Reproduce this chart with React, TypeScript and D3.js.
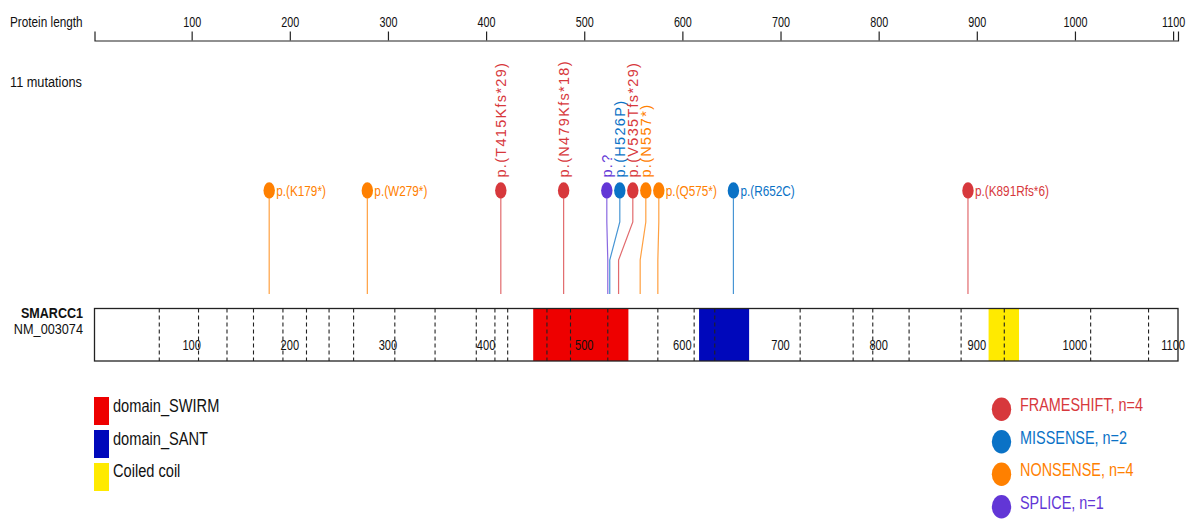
import * as d3 from "d3";
import React, { useEffect, useRef } from "react";

const W = 1186;
const H = 521;

const geneName = "SMARCC1";
const transcript = "NM_003074";
const proteinLength = 1105;
const axisTicks = [100, 200, 300, 400, 500, 600, 700, 800, 900, 1000, 1100];

// exon boundaries (dashed lines in the protein bar)
const exonBreaks = [
  67, 107, 136, 163, 193, 217, 240, 265, 307, 348, 390, 409, 422, 462, 486, 524, 575, 612, 633, 720, 774, 794,
  831, 884, 928, 1016, 1075,
];

const domainNames = ["domain_SWIRM", "domain_SANT", "Coiled coil"];
const domainStart = [448, 617, 912];
const domainEnd = [545, 668, 943];
const domainColors = ["#ee0000", "#0008bb", "#ffea00"];

const mutPos = [179, 279, 415, 479, 524, 526, 535, 557, 575, 652, 891];
const mutLabel = [
  "p.(K179*)",
  "p.(W279*)",
  "p.(T415Kfs*29)",
  "p.(N479Kfs*18)",
  "p.?",
  "p.(H526P)",
  "p.(V535Tfs*29)",
  "p.(N557*)",
  "p.(Q575*)",
  "p.(R652C)",
  "p.(K891Rfs*6)",
];
const mutType = [
  "NONSENSE",
  "NONSENSE",
  "FRAMESHIFT",
  "FRAMESHIFT",
  "SPLICE",
  "MISSENSE",
  "FRAMESHIFT",
  "NONSENSE",
  "NONSENSE",
  "MISSENSE",
  "FRAMESHIFT",
];
const typeNames = ["FRAMESHIFT", "MISSENSE", "NONSENSE", "SPLICE"];
const typeColors = ["#d7383c", "#0a72c6", "#ff8000", "#6236d6"];

const FONT = "'Liberation Sans', Arial, sans-serif";

// push overlapping heads apart; a cluster is centred between its outermost true positions
function spreadHeads(xs: number[], gap: number, mergeDist: number) {
  let groups = xs.map((x, i) => ({ idx: [i], center: x }));
  let merged = true;
  while (merged) {
    merged = false;
    for (let g = 0; g < groups.length - 1; g++) {
      const a = groups[g];
      const b = groups[g + 1];
      const aRight = a.center + ((a.idx.length - 1) * gap) / 2;
      const bLeft = b.center - ((b.idx.length - 1) * gap) / 2;
      if (bLeft - aRight < mergeDist) {
        const idx = a.idx.concat(b.idx);
        const center = (xs[idx[0]] + xs[idx[idx.length - 1]]) / 2;
        groups.splice(g, 2, { idx, center });
        merged = true;
        break;
      }
    }
  }
  const out: number[] = [];
  groups.forEach((g) => g.idx.forEach((i, k) => (out[i] = g.center + (k - (g.idx.length - 1) / 2) * gap)));
  return out;
}

// horizontally condensed text, as in the original figure
function ctext(parent: any, x: number, y: number, size: number, sx: number, str: string) {
  return parent
    .append("text")
    .attr("transform", `translate(${x},${y}) scale(${sx},1)`)
    .attr("font-family", FONT)
    .attr("font-size", size)
    .attr("fill", "#111")
    .text(str);
}

export default function App() {
  const ref = useRef<SVGSVGElement>(null);

  useEffect(() => {
    const svg = d3.select(ref.current);
    svg.selectAll("*").remove();

    const x = d3.scaleLinear([1, proteinLength], [94.5, 1178]);
    const color = d3.scaleOrdinal(typeNames, typeColors);

    // top axis
    ctext(svg, 10, 26.5, 15, 0.785, "Protein length");

    svg
      .append("g")
      .attr("transform", "translate(0,40.5)")
      .call(d3.axisTop(x).tickValues(axisTicks).tickFormat(d3.format("d")).tickSize(9).tickSizeOuter(9).tickPadding(5))
      .call((g) => g.selectAll("path, line").attr("stroke", "#222").attr("stroke-width", 1.2))
      .call((g) =>
        g
          .selectAll("text")
          .attr("font-family", FONT)
          .attr("font-size", 15)
          .attr("fill", "#111")
          .attr("transform", "scale(0.72,1)")
      );

    ctext(svg, 10, 87, 15, 0.85, `${mutPos.length} mutations`);

    // lollipops
    const trueX = mutPos.map((p) => x(p));
    const headX = spreadHeads(trueX, 13, 17);
    const headY = 190.5;
    const stemTop = headY + 8;
    const stemBottom = 294;

    const mut = svg.append("g");
    mutPos.forEach((p, i) => {
      const c = color(mutType[i]);
      const path = d3.path();
      path.moveTo(headX[i], stemTop);
      path.lineTo(headX[i], 222);
      path.lineTo(trueX[i], 260);
      path.lineTo(trueX[i], stemBottom);
      mut
        .append("path")
        .attr("d", path.toString())
        .attr("fill", "none")
        .attr("stroke", c)
        .attr("stroke-opacity", 0.75)
        .attr("stroke-width", 1.2);
      mut
        .append("ellipse")
        .attr("cx", headX[i])
        .attr("cy", headY)
        .attr("rx", 5.7)
        .attr("ry", 8.3)
        .attr("fill", c);

      const next = i < mutPos.length - 1 ? headX[i + 1] : W;
      const room = next - headX[i];
      const estWidth = mutLabel[i].length * 5 + 14;
      if (estWidth < room) {
        ctext(mut, headX[i] + 7, headY, 15.5, 0.76, mutLabel[i]).attr("dy", "0.36em").attr("fill", c);
      } else {
        mut
          .append("text")
          .attr("transform", `translate(${headX[i]},${headY - 13}) rotate(-90)`)
          .attr("dy", "0.36em")
          .attr("font-family", FONT)
          .attr("font-size", 14.5)
          .attr("letter-spacing", 1.3)
          .attr("fill", c)
          .text(mutLabel[i]);
      }
    });

    // protein bar
    const barTop = 308.5;
    const barBottom = 361;
    ctext(svg, 83, 318, 15.5, 0.81, geneName).attr("text-anchor", "end").attr("font-weight", "bold");
    ctext(svg, 83, 334, 15.5, 0.82, transcript).attr("text-anchor", "end");

    svg
      .append("rect")
      .attr("x", x(1))
      .attr("y", barTop)
      .attr("width", x(proteinLength) - x(1))
      .attr("height", barBottom - barTop)
      .attr("fill", "#fff");

    svg
      .append("g")
      .selectAll("rect")
      .data(d3.range(domainNames.length))
      .join("rect")
      .attr("x", (i) => x(domainStart[i]))
      .attr("y", barTop)
      .attr("width", (i) => x(domainEnd[i]) - x(domainStart[i]))
      .attr("height", barBottom - barTop)
      .attr("fill", (i) => domainColors[i]);

    svg
      .append("g")
      .selectAll("line")
      .data(exonBreaks)
      .join("line")
      .attr("x1", (d) => x(d))
      .attr("x2", (d) => x(d))
      .attr("y1", barTop)
      .attr("y2", barBottom)
      .attr("stroke", "#222")
      .attr("stroke-width", 1.1)
      .attr("stroke-dasharray", "4,3");

    const inner = svg.append("g");
    axisTicks.forEach((d) => {
      ctext(inner, x(d), 349.5, 15, 0.74, String(d)).attr("text-anchor", "middle");
    });

    svg
      .append("rect")
      .attr("x", x(1))
      .attr("y", barTop)
      .attr("width", x(proteinLength) - x(1))
      .attr("height", barBottom - barTop)
      .attr("fill", "none")
      .attr("stroke", "#222")
      .attr("stroke-width", 1.3);

    // domain legend
    const dl = svg.append("g");
    domainNames.forEach((name, i) => {
      dl.append("rect")
        .attr("x", 94)
        .attr("y", 397 + i * 33)
        .attr("width", 15)
        .attr("height", 28)
        .attr("fill", domainColors[i]);
      ctext(dl, 113, 412 + i * 32.5, 18.5, 0.79, name);
    });

    // mutation type legend
    const counts = d3.rollup(
      mutType,
      (v) => v.length,
      (d) => d
    );
    const tl = svg.append("g");
    typeNames.forEach((t, i) => {
      const cy = 409.3 + i * 32.5;
      tl.append("ellipse").attr("cx", 1001.5).attr("cy", cy).attr("rx", 9.7).attr("ry", 11.7).attr("fill", typeColors[i]);
      ctext(tl, 1020, cy + 1.8, 19, 0.76, `${t}, n=${counts.get(t) ?? 0}`).attr("fill", typeColors[i]);
    });
  }, []);

  return (
    <svg
      ref={ref}
      width={W}
      height={H}
      viewBox={`0 0 ${W} ${H}`}
      style={{ position: "absolute", left: 0, top: 0, background: "#fff" }}
    />
  );
}
